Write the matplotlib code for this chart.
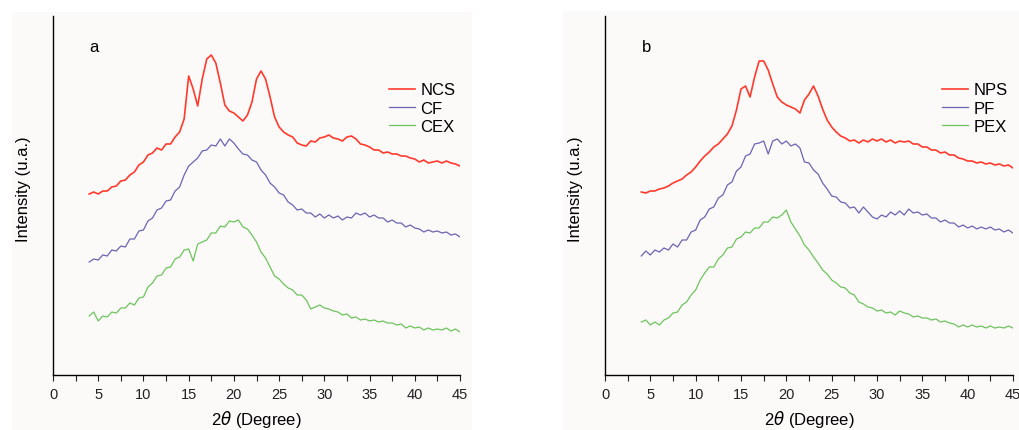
import numpy as np
import matplotlib
matplotlib.use('Agg')
import matplotlib.pyplot as plt
from matplotlib.patches import Rectangle
from matplotlib.ticker import MultipleLocator

plt.rcParams['font.family'] = ['Liberation Sans', 'DejaVu Sans']

# 2-theta grid (degrees), 0.5 deg steps from 4 to 45
two_theta = np.arange(4.0, 45.01, 0.5)

# panel a, arbitrary intensity units
ncs = [181, 183, 181, 184, 184, 188, 189, 194, 195, 200, 203, 210, 213, 220, 222, 227,
       225, 231, 231, 238, 243, 256, 299, 286, 269, 296, 316, 320, 312, 292, 270, 264,
       262, 258, 254, 260, 273, 296, 304, 296, 278, 258, 248, 243, 240, 238, 232, 230,
       229, 234, 233, 237, 238, 240, 237, 236, 234, 238, 239, 236, 231, 230, 228, 225,
       225, 222, 223, 221, 221, 219, 219, 217, 216, 213, 215, 212, 213, 214, 212, 214,
       212, 211, 209]
cf = [113, 116, 115, 120, 119, 125, 124, 129, 128, 136, 136, 144, 145, 154, 157, 165,
      167, 174, 175, 184, 188, 200, 209, 213, 217, 224, 225, 230, 229, 236, 229, 236,
      232, 226, 221, 220, 215, 213, 205, 200, 192, 188, 182, 180, 173, 170, 165, 166,
      162, 162, 158, 161, 157, 160, 157, 159, 155, 158, 157, 162, 160, 162, 158, 160,
      157, 157, 153, 155, 152, 152, 148, 150, 147, 146, 143, 145, 143, 144, 142, 143,
      140, 141, 138]
cex = [59, 63, 54, 59, 58, 63, 62, 67, 67, 72, 70, 77, 78, 88, 92, 99,
       100, 107, 108, 116, 118, 125, 126, 114, 131, 133, 135, 142, 142, 149, 148, 154,
       153, 155, 148, 146, 140, 133, 123, 117, 108, 99, 96, 91, 87, 85, 80, 80,
       75, 66, 68, 70, 67, 66, 64, 63, 60, 61, 57, 58, 55, 56, 54, 55,
       53, 54, 52, 52, 50, 51, 47, 49, 47, 48, 45, 47, 45, 46, 45, 47,
       44, 46, 43]

# panel b
nps = [183, 182, 184, 184, 186, 187, 189, 192, 194, 196, 200, 203, 208, 214, 219, 223,
       228, 231, 236, 241, 249, 265, 286, 289, 278, 298, 314, 314, 305, 291, 278, 273,
       270, 268, 266, 262, 275, 281, 289, 279, 266, 255, 248, 243, 239, 237, 234, 235,
       232, 235, 233, 236, 234, 236, 233, 235, 232, 234, 233, 234, 231, 231, 228, 228,
       225, 225, 222, 223, 220, 220, 217, 216, 214, 214, 212, 213, 211, 212, 210, 211,
       209, 210, 207]
pf = [119, 124, 120, 125, 123, 127, 125, 131, 128, 135, 135, 143, 145, 155, 158, 166,
      168, 177, 180, 190, 193, 204, 208, 219, 221, 231, 232, 234, 221, 234, 236, 231,
      234, 229, 231, 227, 213, 212, 205, 201, 192, 186, 179, 178, 173, 172, 167, 168,
      162, 168, 163, 158, 156, 160, 158, 163, 160, 164, 160, 166, 162, 163, 160, 161,
      157, 157, 153, 155, 152, 152, 148, 150, 147, 149, 146, 148, 146, 148, 145, 146,
      143, 145, 142]
pex = [53, 55, 50, 53, 50, 55, 57, 62, 63, 70, 73, 80, 85, 95, 102, 108,
       108, 116, 120, 127, 128, 136, 138, 143, 142, 147, 147, 153, 153, 158, 157, 160,
       165, 153, 146, 139, 130, 125, 118, 112, 105, 101, 95, 92, 88, 87, 82, 80,
       73, 71, 68, 67, 64, 65, 62, 63, 60, 64, 62, 61, 58, 59, 57, 57,
       55, 56, 53, 54, 52, 51, 48, 50, 48, 50, 48, 49, 47, 49, 47, 48,
       47, 49, 47]

panels = [
    ('a', [('NCS', ncs), ('CF', cf), ('CEX', cex)]),
    ('b', [('NPS', nps), ('PF', pf), ('PEX', pex)]),
]
colors = ['#ff3a2c', '#6a64b2', '#6cc45c']
widths = [1.2, 0.9, 0.9]

fig = plt.figure(figsize=(10.19, 4.31), dpi=100)
fig.patch.set_facecolor('white')

# off-white backgrounds behind each panel (pixel boxes)
W, H = 1019, 431
for x0, x1, y0 in [(12, 472, 13), (563, 1019, 12)]:
    fig.patches.append(Rectangle((x0 / W, 0), (x1 - x0) / W, 1 - y0 / H,
                                 transform=fig.transFigure, facecolor='#fcfaf9',
                                 edgecolor='none', zorder=-10))

lefts = [53 / W, 605 / W]
axw = [407 / W, 408 / W]
bottom = 1 - 376 / H
height = (376 - 17) / H

for i, (tag, series) in enumerate(panels):
    ax = fig.add_axes([lefts[i], bottom, axw[i], height])
    ax.set_facecolor('none')
    for (name, vals), c, lw in zip(series, colors, widths):
        ax.plot(two_theta, vals, color=c, lw=lw, label=name)

    ax.set_xlim(0, 45)
    ax.set_ylim(0, 359)
    ax.spines['top'].set_visible(False)
    ax.spines['right'].set_visible(False)
    ax.spines['left'].set_linewidth(1.0)
    ax.spines['bottom'].set_linewidth(1.0)
    ax.set_yticks([])
    ax.xaxis.set_major_locator(MultipleLocator(5))
    ax.xaxis.set_minor_locator(MultipleLocator(2.5))
    ax.tick_params(axis='x', which='both', direction='out', length=4, width=0.8,
                   labelsize=10.5, pad=5, colors='#222222')

    ax.set_xlabel(r'2$\theta$ (Degree)', fontsize=12, labelpad=5)
    ax.set_ylabel('Intensity (u.a.)', fontsize=12)
    ax.yaxis.set_label_coords(-0.055, 0.52)

    ax.text(0.09, 0.915, tag, transform=ax.transAxes, fontsize=12, va='center')

    ax.legend(loc='upper left', bbox_to_anchor=(0.825, 0.815), frameon=False,
              fontsize=12, handlelength=1.6, handletextpad=0.3,
              labelspacing=0.2, borderaxespad=0, borderpad=0)

fig.savefig('out.png', dpi=100, facecolor=fig.get_facecolor())
